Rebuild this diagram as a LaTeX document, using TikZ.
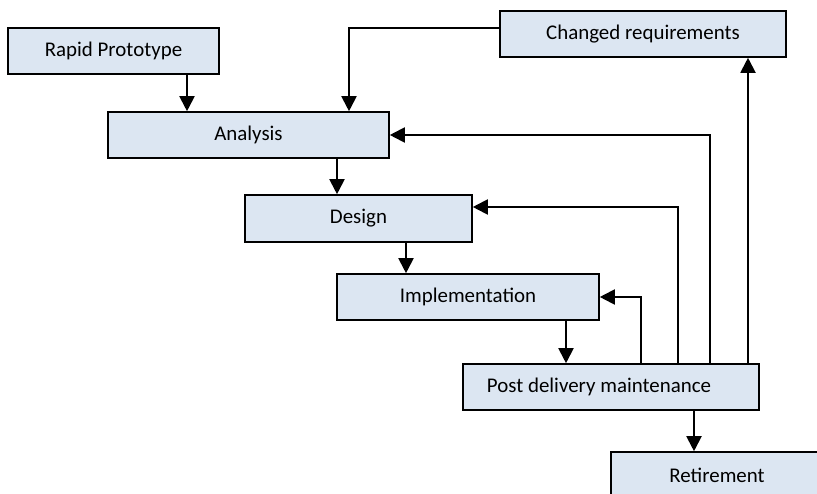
\documentclass[tikz,border=0pt]{standalone}
\usepackage{fontspec}
\setmainfont{Carlito}
\usetikzlibrary{arrows.meta}

\definecolor{boxfill}{RGB}{220,230,242}

\tikzset{
  phase/.style={draw, line width=0.9pt, fill=boxfill, minimum height=0.92cm,
    inner sep=0pt, font=\fontsize{11.9}{14}\selectfont},
  flow/.style={line width=1.1pt, -{Triangle[length=0.3cm, width=0.3cm]}}
}

\begin{document}
\begin{tikzpicture}
  \useasboundingbox (0, 0) rectangle (16.34, -9.88);

  % Phases
  \node [phase, minimum width=4.22cm] (proto) at (2.27, -1.02) {Rapid Prototype};
  \node [phase, minimum width=5.62cm] (analysis) at (4.97, -2.70) {Analysis};
  \node [phase, minimum width=5.72cm] (changed) at (12.86, -0.68) {Changed requirements};
  \node [phase, minimum width=4.54cm, minimum height=0.94cm] (design) at (7.17, -4.37) {Design};
  \node [phase, minimum width=5.24cm] (impl) at (9.36, -5.94) {Implementation};
  \node [phase, minimum width=5.92cm] (maint) at (12.22, -7.74)
    {\hspace*{-0.48cm}Post delivery maintenance};
  \node [phase, minimum width=4.24cm] (retire) at (14.34, -9.50) {Retirement};

  % Columns of the vertical connectors
  \coordinate (c1) at (3.74, 0);
  \coordinate (c2) at (6.98, 0);
  \coordinate (c3) at (6.74, 0);
  \coordinate (c4) at (8.12, 0);
  \coordinate (c5) at (11.32, 0);
  \coordinate (c6) at (13.88, 0);
  \coordinate (c7) at (12.82, 0);
  \coordinate (c8) at (13.56, 0);
  \coordinate (c9) at (14.20, 0);
  \coordinate (c10) at (14.96, 0);

  % Forward flow
  \draw [flow] (proto.south -| c1) -- (analysis.north -| c1);
  \draw [flow] ([yshift=0.12cm]changed.west) -| (analysis.north -| c2);
  \draw [flow] (analysis.south -| c3) -- (design.north -| c3);
  \draw [flow] (design.south -| c4) -- (impl.north -| c4);
  \draw [flow] (impl.south -| c5) -- (maint.north -| c5);
  \draw [flow] (maint.south -| c6) -- (retire.north -| c6);

  % Feedback from maintenance
  \draw [flow] (maint.north -| c7) |- (impl.east);
  \draw [flow] (maint.north -| c8) |- ([yshift=0.23cm]design.east);
  \draw [flow] (maint.north -| c9) |- (analysis.east);
  \draw [flow] (maint.north -| c10) -- (changed.south -| c10);
\end{tikzpicture}
\end{document}
